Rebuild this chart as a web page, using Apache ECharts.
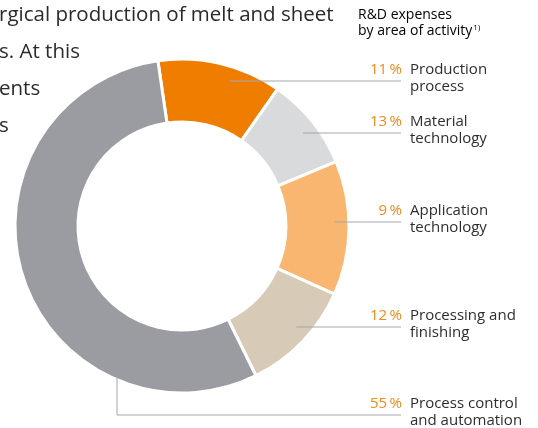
<!DOCTYPE html>
<html><head><meta charset="utf-8">
<script src="https://cdn.jsdelivr.net/npm/echarts@6/dist/echarts.min.js"></script>
<style>html,body{margin:0;padding:0;background:#fff}#c{width:538px;height:428px}</style>
</head><body><div id="c"></div>
<script>
// ---------- data ----------
// categories, clockwise from the top of the ring (two text lines each)
const categoryLine1 = ['Production', 'Material', 'Application', 'Processing and', 'Process control'];
const categoryLine2 = ['process', 'technology', 'technology', 'finishing', 'and automation'];
// shares as printed next to each category (%)
const labelPercents = [11, 13, 9, 12, 55];
const sliceShares = [12, 9, 13, 11, 55];
const headerLines = ['R&D expenses', 'by area of activity'];
const headerNote = '1)';
const bodyTextLines = ['rgical production of melt and sheet', 's. At this', 'ents', 's'];

// ---------- layout / style ----------
const FONT = '"Open Sans", "Noto Sans", sans-serif';
const CX = 182, CY = 226, R_IN = 104, R_OUT = 167;
const R_LEAD = 152.5, R_EDGE = 165;
const LEAD_Y = [81, 133, 222, 327, 415];
const LEAD_END_X = 401, LABEL_X = 357, PCT_W = 45, NAME_GAP = 8, LAST_LEAD_X = 117;
const COLORS = ['#EF7D00', '#D9DADC', '#F8B670', '#D7CAB6', '#9A9CA2'];
const PCT_COLOR = '#F2891A', TEXT_COLOR = '#2E2E2E', LINE_COLOR = '#A4A7AC';
const LABEL_SIZE = 15;

const ctx = document.createElement('canvas').getContext('2d');
ctx.font = LABEL_SIZE + 'px ' + FONT;
const pctText = labelPercents.map(v => v + '\u2009%');
const rich = {
  n: { color: TEXT_COLOR, fontSize: LABEL_SIZE, fontFamily: FONT, lineHeight: 17, padding: [0, 0, 0, NAME_GAP] },
  m: { color: TEXT_COLOR, fontSize: LABEL_SIZE, fontFamily: FONT, lineHeight: 17 },
  s: { width: PCT_W + NAME_GAP, fontSize: LABEL_SIZE, lineHeight: 17 }
};
pctText.forEach((t, i) => {
  const w = ctx.measureText(t).width;
  rich['p' + i] = { color: PCT_COLOR, fontSize: LABEL_SIZE, fontFamily: FONT, lineHeight: 17,
                    padding: [0, 0, 0, Math.max(0, PCT_W - w)] };
});

const pieBase = {
  type: 'pie',
  center: [CX, CY],
  radius: [R_IN, R_OUT],
  startAngle: 98.3,
  clockwise: true,
  avoidLabelOverlap: false,
  silent: true
};

const chart = echarts.init(document.getElementById('c'), null, { renderer: 'canvas' });
chart.setOption({
  animation: false,
  backgroundColor: '#fff',
  graphic: [
    { type: 'text', left: 358, top: 8, style: {
        text: '{a|' + headerLines[0] + '}\n{a|' + headerLines[1] + '}{sup|' + headerNote + '}',
        rich: { a: { fontSize: 14, fontFamily: FONT, color: TEXT_COLOR, lineHeight: 16 },
                sup: { fontSize: 8, fontFamily: FONT, color: TEXT_COLOR, lineHeight: 16, verticalAlign: 'top', padding: [1, 0, 0, 1] } } } },
  ].concat(bodyTextLines.map((t, i) => ({
    type: 'text', left: -1, top: 5 + i * 37,
    style: { text: t, fontSize: 20.5, fontFamily: FONT, fill: '#2A2A2A' }
  }))),
  series: [
    Object.assign({}, pieBase, {
      z: 2,
      itemStyle: { borderColor: '#fff', borderWidth: 3 },
      data: sliceShares.map((v, i) => ({ value: v, name: categoryLine1[i] + ' ' + categoryLine2[i], itemStyle: { color: COLORS[i] } })),
      label: { show: false },
      labelLine: { show: false }
    }),
    // same ring, transparent, carrying labels and leader lines above the slices
    Object.assign({}, pieBase, {
      z: 4,
      itemStyle: { color: 'rgba(0,0,0,0)', borderWidth: 0 },
      data: sliceShares.map((v, i) => ({ value: v, name: categoryLine1[i] + ' ' + categoryLine2[i] })),
      label: {
        show: true, position: 'outside',
        formatter: p => '{p' + p.dataIndex + '|' + pctText[p.dataIndex] + '}{n|' + categoryLine1[p.dataIndex] + '}\n{s|\u00a0}{m|' + categoryLine2[p.dataIndex] + '}',
        rich: rich
      },
      labelLine: { show: true, lineStyle: { color: LINE_COLOR, width: 1 } },
      labelLayout: function (p) {
        const i = p.dataIndex, y = LEAD_Y[i];
        let pts;
        if (i === sliceShares.length - 1) {
          const ye = CY + Math.sqrt(R_EDGE * R_EDGE - (LAST_LEAD_X - CX) * (LAST_LEAD_X - CX));
          pts = [[LAST_LEAD_X, ye], [LAST_LEAD_X, y], [LEAD_END_X, y]];
        } else {
          const xs = CX + Math.sqrt(R_LEAD * R_LEAD - (y - CY) * (y - CY));
          pts = [[xs, y], [(xs + LEAD_END_X) / 2, y], [LEAD_END_X, y]];
        }
        return { x: LABEL_X, y: y - 20, align: 'left', verticalAlign: 'top', labelLinePoints: pts };
      }
    })
  ]
});
</script></body></html>
